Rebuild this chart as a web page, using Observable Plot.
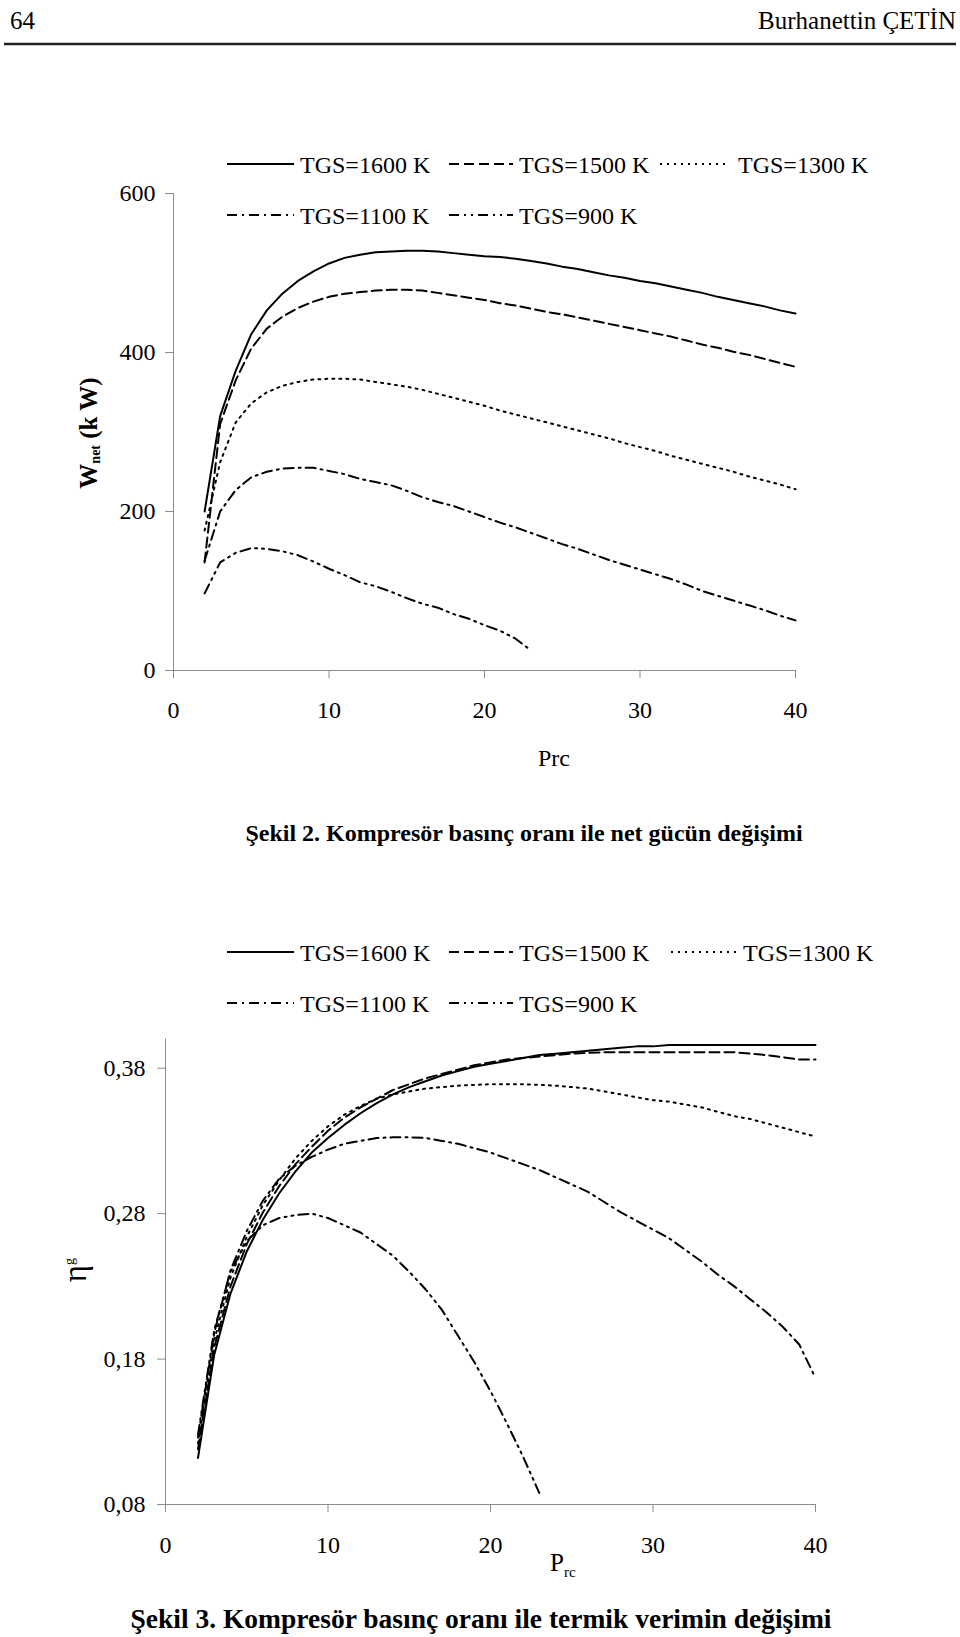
<!DOCTYPE html>
<html><head><meta charset="utf-8">
<script src="https://cdn.jsdelivr.net/npm/d3@7"></script>
<script src="https://cdn.jsdelivr.net/npm/@observablehq/plot@0.6"></script>
<style>
html,body{margin:0;padding:0;background:#fff;}
#page{position:relative;width:960px;height:1637px;overflow:hidden;font-family:"Liberation Serif","Times New Roman",serif;}
</style></head>
<body><div id="page"></div>
<script>
// ---------- DATA ----------
const prc = [2,3,4,5,6,7,8,9,10,11,12,13,14,15,16,17,18,19,20,21,22,23,24,25,26,27,28,29,30,31,32,33,34,35,36,37,38,39,40];
const seriesNames = ["TGS=1600 K","TGS=1500 K","TGS=1300 K","TGS=1100 K","TGS=900 K"];
// Figure 2: net work (kW)
const w1600 = [200,320,377,423,453,474,490,502,512,519,523,526,527,528,528,527,525,523,521,520,518,515,512,508,505,501,497,494,490,487,483,479,475,470,466,462,458,453,449];
const w1500 = [136,310,365,405,430,445,456,464,470,474,476,478,479,479,478,475,472,469,466,462,459,455,451,448,444,440,436,432,428,424,420,415,410,406,401,397,392,387,382];
const w1300 = [176,262,312,336,350,358,363,366,367,367,366,363,360,357,353,348,343,338,333,327,322,317,312,307,302,297,292,286,281,276,270,265,260,255,250,244,239,234,228];
const w1100 = [138,200,227,243,250,254,255,255,251,247,241,237,233,226,218,212,207,200,193,186,180,173,166,159,153,146,139,133,127,121,115,108,100,94,88,82,76,69,63];
const w900  = [97,136,148,154,153,150,145,137,128,120,111,106,99,91,84,79,71,65,57,50,40,25];
// Figure 3: thermal efficiency
const e1600 = [0.112,0.183,0.225,0.254,0.276,0.294,0.309,0.322,0.332,0.341,0.349,0.356,0.362,0.367,0.371,0.375,0.378,0.381,0.383,0.385,0.387,0.389,0.390,0.391,0.392,0.393,0.394,0.395,0.395,0.396,0.396,0.396,0.396,0.396,0.396,0.396,0.396,0.396,0.396];
const e1500 = [0.118,0.188,0.230,0.259,0.281,0.299,0.314,0.326,0.337,0.346,0.353,0.359,0.365,0.369,0.373,0.376,0.379,0.382,0.384,0.386,0.387,0.388,0.389,0.390,0.3905,0.391,0.391,0.391,0.391,0.391,0.391,0.391,0.391,0.391,0.390,0.389,0.3875,0.386,0.386];
const e1300 = [0.122,0.193,0.236,0.264,0.286,0.303,0.318,0.330,0.340,0.348,0.354,0.359,0.362,0.364,0.366,0.367,0.368,0.3685,0.369,0.369,0.369,0.3685,0.368,0.367,0.366,0.364,0.362,0.360,0.358,0.357,0.355,0.353,0.350,0.347,0.345,0.342,0.339,0.336,0.333];
const e1100 = [0.126,0.198,0.241,0.268,0.289,0.304,0.313,0.319,0.324,0.328,0.330,0.332,0.3325,0.3325,0.332,0.330,0.328,0.325,0.322,0.318,0.314,0.310,0.305,0.300,0.295,0.288,0.281,0.275,0.269,0.263,0.255,0.247,0.238,0.230,0.221,0.212,0.202,0.190,0.167];
const e900  = [0.128,0.200,0.240,0.261,0.272,0.277,0.279,0.280,0.277,0.272,0.267,0.259,0.251,0.240,0.228,0.214,0.196,0.178,0.158,0.136,0.113,0.088];
const xTicks = [0,10,20,30,40];
const wTicks = [0,200,400,600];
const eTicks = [0.08,0.18,0.28,0.38];

// ---------- STYLE ----------
const FONT = '"Liberation Serif","Times New Roman",serif';
const AXIS = "#8c8c8c";
const dashes = [null, "10,5", "2,5", "10,5,2,5", "10,5,2,5,2,5"];

const page = d3.select("#page");

function rows(arr){ return arr.map((v,i)=>({x: prc[i], y: v})); }

function lineMarks(list){
  return list.map((arr,i)=>Plot.line(rows(arr), {x:"x", y:"y", stroke:"#000", strokeWidth:2, strokeDasharray: dashes[i] ?? undefined}));
}

// ---------- FIGURE 2 ----------
const p1 = Plot.plot({
  width: 960, height: 620,
  marginTop: 43, marginBottom: 100, marginLeft: 173, marginRight: 165,
  style: {fontFamily: FONT, fontSize: "24px", background: "transparent", color: "#000", overflow: "visible"},
  x: {domain: [0,40]},
  y: {domain: [0,600]},
  marks: [
    Plot.ruleX([0], {stroke: AXIS}),
    Plot.ruleY([0], {stroke: AXIS}),
    Plot.axisX({ticks: xTicks, tickSize: 8, tickPadding: 22, stroke: AXIS, fill: "#000", label: null, fontSize: 24}),
    Plot.axisY({ticks: wTicks, tickSize: 8, tickPadding: 10, stroke: AXIS, fill: "#000", label: null, fontSize: 24}),
    ...lineMarks([w1600,w1500,w1300,w1100,w900])
  ]
});
d3.select(p1).style("position","absolute").style("left","0px").style("top","150px");
page.node().appendChild(p1);

// ---------- FIGURE 3 ----------
const p2 = Plot.plot({
  width: 960, height: 594,
  marginTop: 38.6, marginBottom: 90, marginLeft: 165, marginRight: 145,
  style: {fontFamily: FONT, fontSize: "24px", background: "transparent", color: "#000", overflow: "visible"},
  x: {domain: [0,40]},
  y: {domain: [0.08,0.40]},
  marks: [
    Plot.ruleX([0], {stroke: AXIS}),
    Plot.ruleY([0.08], {stroke: AXIS}),
    Plot.axisX({ticks: xTicks, tickSize: 8, tickPadding: 23, stroke: AXIS, fill: "#000", label: null, fontSize: 24}),
    Plot.axisY({ticks: eTicks, tickSize: 8, tickPadding: 12, stroke: AXIS, fill: "#000", label: null, fontSize: 24,
      tickFormat: d => d.toFixed(2).replace(".", ",")}),
    ...lineMarks([e1600,e1500,e1300,e1100,e900])
  ]
});
d3.select(p2).style("position","absolute").style("left","0px").style("top","1000px");
page.node().appendChild(p2);

// ---------- OVERLAY TEXT ----------
const ov = page.append("svg").attr("width",960).attr("height",1637)
  .style("position","absolute").style("left","0px").style("top","0px")
  .style("font-family", FONT).style("pointer-events","none");

// header
ov.append("text").attr("x",10).attr("y",29).attr("font-size",25).text("64");
ov.append("text").attr("x",956).attr("y",29).attr("font-size",25).attr("text-anchor","end").text("Burhanettin ÇETİN");
ov.append("line").attr("x1",4).attr("x2",956).attr("y1",44).attr("y2",44).attr("stroke","#222").attr("stroke-width",2.5);

// legends
function legend(y1, y2, col3x){
  const items = [
    {i:0, lx:227, rx:294, tx:300, y:y1},
    {i:1, lx:449, rx:513, tx:519, y:y1},
    {i:2, lx:col3x[0], rx:col3x[1], tx:col3x[2], y:y1},
    {i:3, lx:227, rx:294, tx:300, y:y2},
    {i:4, lx:449, rx:513, tx:519, y:y2}
  ];
  for (const it of items){
    ov.append("line").attr("x1",it.lx).attr("x2",it.rx).attr("y1",it.y-9).attr("y2",it.y-9)
      .attr("stroke","#000").attr("stroke-width",2).attr("stroke-dasharray", dashes[it.i] || null);
    ov.append("text").attr("x",it.tx).attr("y",it.y).attr("font-size",24).text(seriesNames[it.i]);
  }
}
legend(173, 224, [660,727,738]);
legend(961, 1012, [671,736,743]);

// axis titles fig 2
const t1 = ov.append("text").attr("transform","translate(97,433) rotate(-90)").attr("text-anchor","middle")
  .attr("font-size",25).attr("font-weight","bold");
t1.append("tspan").text("W");
t1.append("tspan").attr("font-size",14).attr("dy",3).text("net");
t1.append("tspan").attr("dy",-3).text(" (k W)");
ov.append("text").attr("x",554).attr("y",766).attr("text-anchor","middle").attr("font-size",24).text("Prc");
ov.append("text").attr("x",524).attr("y",841).attr("text-anchor","middle").attr("font-size",24).attr("font-weight","bold")
  .text("Şekil 2. Kompresör basınç oranı ile net gücün değişimi");

// axis titles fig 3
const t2 = ov.append("text").attr("transform","translate(86,1270) rotate(-90)").attr("text-anchor","middle").attr("font-size",33);
t2.append("tspan").text("η");
t2.append("tspan").attr("font-size",14).attr("dy",-12).text("g");
const t3 = ov.append("text").attr("x",550).attr("y",1571).attr("font-size",25);
t3.append("tspan").text("P");
t3.append("tspan").attr("font-size",15).attr("dy",6).text("rc");
ov.append("text").attr("x",481).attr("y",1628).attr("text-anchor","middle").attr("font-size",27.5).attr("font-weight","bold")
  .text("Şekil 3. Kompresör basınç oranı ile termik verimin değişimi");
</script>
</body></html>
